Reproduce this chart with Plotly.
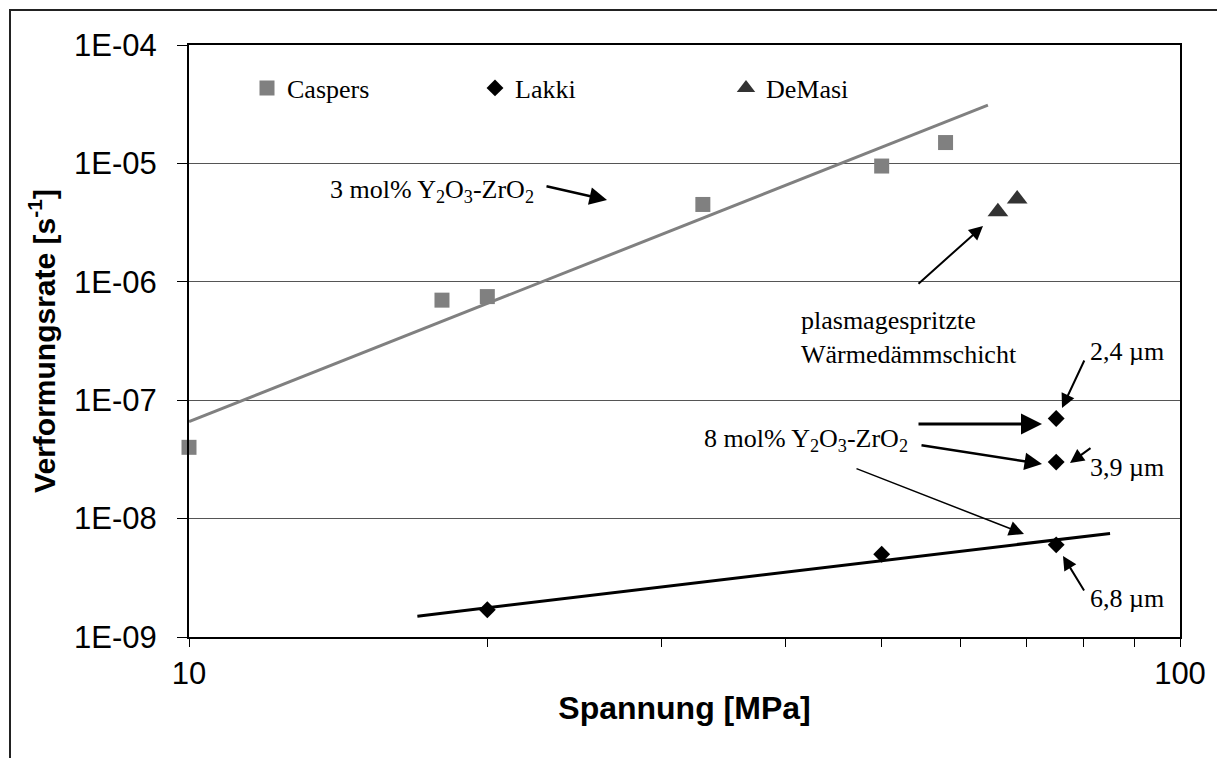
import plotly.graph_objects as go

# ---- data ----
caspers_x = [10, 18, 20, 33, 50, 58]
caspers_y = [4.0e-8, 7.0e-7, 7.5e-7, 4.5e-6, 9.5e-6, 1.5e-5]
lakki_x = [20, 50, 75, 75, 75]
lakki_y = [1.7e-9, 5.0e-9, 6.0e-9, 3.0e-8, 7.0e-8]
demasi_x = [65.5, 68.5]
demasi_y = [3.9e-6, 5.0e-6]
caspers_fit_x = [10, 64]
caspers_fit_y = [6.6e-8, 3.1e-5]
lakki_fit_x = [17, 85]
lakki_fit_y = [1.5e-9, 7.5e-9]

y_tick_vals = [1e-9, 1e-8, 1e-7, 1e-6, 1e-5, 1e-4]
y_tick_text = ["1E-09", "1E-08", "1E-07", "1E-06", "1E-05", "1E-04"]
x_tick_vals = [10, 20, 30, 40, 50, 60, 70, 80, 90, 100]
x_tick_text = ["10", "", "", "", "", "", "", "", "", "100"]

W, H = 1217, 758
L, R, T, B = 189, 37, 45, 121
PW, PH = W - L - R, H - T - B

def px(x):
    return (x - L) / PW

def py(y):
    return (H - B - y) / PH

SERIF = "Liberation Serif, Times New Roman, serif"
SANS = "Liberation Sans, Arial, sans-serif"

fig = go.Figure()
fig.add_trace(go.Scatter(x=caspers_fit_x, y=caspers_fit_y, mode="lines",
                         line=dict(color="#808080", width=3), showlegend=False,
                         hoverinfo="skip"))
fig.add_trace(go.Scatter(x=lakki_fit_x, y=lakki_fit_y, mode="lines",
                         line=dict(color="black", width=3), showlegend=False,
                         hoverinfo="skip"))
fig.add_trace(go.Scatter(x=caspers_x, y=caspers_y, mode="markers", name="Caspers",
                         marker=dict(symbol="square", size=15, color="#808080"),
                         cliponaxis=False, legend="legend"))
fig.add_trace(go.Scatter(x=lakki_x, y=lakki_y, mode="markers", name="Lakki",
                         marker=dict(symbol="diamond", size=13, color="black"),
                         cliponaxis=False, legend="legend2"))
fig.add_trace(go.Scatter(x=demasi_x, y=demasi_y, mode="markers", name="DeMasi",
                         marker=dict(symbol="triangle-up", size=18, color="#333333"),
                         cliponaxis=False, legend="legend3"))

leg_common = dict(font=dict(family=SERIF, size=26, color="black"),
                  bgcolor="rgba(0,0,0,0)", yanchor="middle", xanchor="left",
                  orientation="h", itemclick=False, itemdoubleclick=False)
legend_y = py(88)

texts = [
    ("3 mol% Y<sub>2</sub>O<sub>3</sub>-ZrO<sub>2</sub>", 328, 191),
    ("plasmagespritzte<br>Wärmedämmschicht", 799, 337),
    ("2,4 µm", 1088, 351),
    ("8 mol% Y<sub>2</sub>O<sub>3</sub>-ZrO<sub>2</sub>", 702, 440),
    ("3,9 µm", 1088, 467),
    ("6,8 µm", 1088, 598),
]
annotations = []
for t, x, y in texts:
    annotations.append(dict(text=t, x=px(x), y=py(y), xref="paper", yref="paper",
                            xanchor="left", yanchor="middle", align="left",
                            showarrow=False,
                            font=dict(family=SERIF, size=26, color="black")))

# arrows: (tail_x, tail_y, head_x, head_y, width)
arrows = [
    (545, 186, 607, 200, 2.5),
    (917, 285, 983, 226, 2),
    (1085, 359, 1062, 408, 2),
    (917, 424, 1042, 424, 3),
    (920, 445, 1042, 464, 2.5),
    (855, 468, 1024, 534, 1.5),
    (1092, 447, 1070, 463, 2),
    (1085, 592, 1063, 556, 2),
]
for tx, ty, hx, hy, w in arrows:
    annotations.append(dict(text="", x=px(hx), y=py(hy), xref="paper", yref="paper",
                            ax=tx - hx, ay=ty - hy, axref="pixel", ayref="pixel",
                            showarrow=True, arrowhead=2, arrowsize=2.0 if w < 2 else 1.4,
                            arrowwidth=w, arrowcolor="black", standoff=0))

fig.update_layout(
    width=W, height=H,
    margin=dict(l=L, r=R, t=T, b=B, autoexpand=False),
    paper_bgcolor="white", plot_bgcolor="white",
    legend=dict(x=px(247), y=legend_y, **leg_common),
    legend2=dict(x=px(475), y=legend_y, **leg_common),
    legend3=dict(x=px(726), y=legend_y, **leg_common),
    annotations=annotations,
    shapes=[dict(type="rect", xref="paper", yref="paper",
                 x0=px(10), x1=px(1260), y0=py(800), y1=py(10),
                 line=dict(color="#222222", width=2), fillcolor="rgba(0,0,0,0)")],
    xaxis=dict(type="log", range=[1, 2], tickvals=x_tick_vals, ticktext=x_tick_text,
               ticks="outside", ticklen=8, tickwidth=1, tickcolor="black",
               showline=True, linecolor="black", linewidth=2, mirror=True,
               showgrid=False, zeroline=False, ticklabelstandoff=0,
               tickfont=dict(family=SANS, size=31, color="black"),
               title=dict(text="<b>Spannung [MPa]</b>", standoff=6,
                          font=dict(family=SANS, size=32, color="black"))),
    yaxis=dict(type="log", range=[-9, -4], tickvals=y_tick_vals, ticktext=y_tick_text,
               ticks="outside", ticklen=10, tickwidth=1, tickcolor="black",
               showline=True, linecolor="black", linewidth=2, mirror=True,
               showgrid=True, gridcolor="#555555", gridwidth=1, zeroline=False,
               ticklabelstandoff=14,
               tickfont=dict(family=SANS, size=31, color="black"),
               title=dict(text="<b>Verformungsrate [s<sup>-1</sup>]</b>", standoff=10,
                          font=dict(family=SANS, size=30, color="black"))),
)

fig.write_html("out.html")
